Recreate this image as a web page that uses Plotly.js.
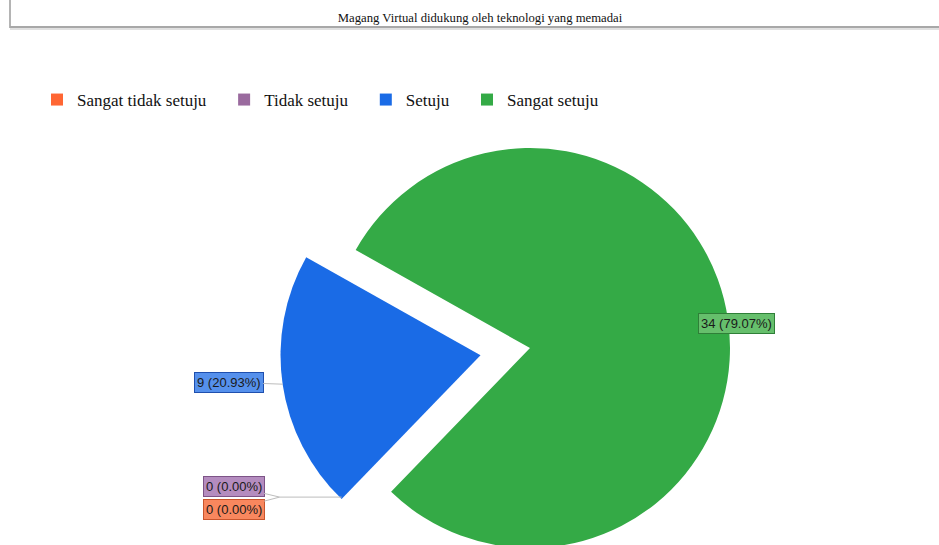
<!DOCTYPE html>
<html>
<head>
<meta charset="utf-8">
<script src="https://cdn.plot.ly/plotly-3.0.1.min.js"></script>
<style>
html, body { margin: 0; padding: 0; overflow: hidden; background: #fff; }
#wrap { width: 939px; height: 545px; overflow: hidden; position: relative; }
#chart { width: 939px; height: 600px; }
</style>
</head>
<body>
<div id="wrap"><div id="chart"></div></div>
<script>
// ---- data ----
const chartTitle = 'Magang Virtual didukung oleh teknologi yang memadai';
const categories = ['Sangat tidak setuju', 'Tidak setuju', 'Setuju', 'Sangat setuju'];
const counts = [0, 0, 9, 34];
const sliceColors = ['#ff6633', '#9a6a9e', '#1a6be6', '#34aa46'];
const labelBg = ['#f8875e', '#b48cbf', '#5590ec', '#66bf6c'];
const labelBorder = ['#c9552c', '#7d5487', '#1f4fae', '#2f7f38'];
const pulls = [0.25, 0.25, 0.25, 0];

// ---- layout params ----
const W = 939, H = 600;
const domX = [280 / W, 780 / W];
const domY = [(H - 598) / H, (H - 98) / H];
const rotation = 224;

const total = counts.reduce((a, b) => a + b, 0);
const maxPull = Math.max(...pulls);
const cx = W * (domX[0] + domX[1]) / 2;
const cy = H * (1 - (domY[0] + domY[1]) / 2);
const r = Math.min(W * (domX[1] - domX[0]), H * (domY[1] - domY[0])) / 2 / (1 + maxPull);
const rad = d => d * Math.PI / 180;
const px = x => x / W, py = y => 1 - y / H;

// slice geometry derived from the data
let cum = rotation;
const slices = counts.map((v, i) => {
  const span = v / total * 360;
  const a0 = cum, a1 = cum + span; cum = a1;
  const mid = (a0 + a1) / 2;
  return { v, a0, a1, mid, pull: pulls[i] };
});
function pulledCenter(s) {
  return [cx + s.pull * r * Math.sin(rad(s.mid)), cy - s.pull * r * Math.cos(rad(s.mid))];
}
function edgePoint(s, ang) {
  const c = pulledCenter(s);
  return [c[0] + r * Math.sin(rad(ang)), c[1] - r * Math.cos(rad(ang))];
}
const fmt = i => counts[i] + ' (' + (counts[i] / total * 100).toFixed(2) + '%)';

const annotations = [];
const shapes = [];
const lineCol = '#bdbdbd';
const lblFont = { family: 'Liberation Sans, Arial, sans-serif', size: 13, color: '#1a1a1a' };

// non-zero slices
slices.forEach((s, i) => {
  if (s.v === 0) return;
  if (s.pull > 0) {
    const p = edgePoint(s, s.mid);
    annotations.push({
      xref: 'paper', yref: 'paper', x: px(p[0]), y: py(p[1]),
      text: fmt(i), showarrow: true, arrowhead: 0, arrowwidth: 1, arrowcolor: lineCol,
      ax: -54, ay: -2, standoff: 0,
      bgcolor: labelBg[i], bordercolor: labelBorder[i], borderwidth: 1, borderpad: 2,
      font: lblFont
    });
  } else {
    const p = [cx + r * Math.sin(rad(s.mid)), cy - r * Math.cos(rad(s.mid))];
    annotations.push({
      xref: 'paper', yref: 'paper', x: px(p[0]), y: py(p[1]),
      xanchor: 'center', yanchor: 'middle',
      text: fmt(i), showarrow: false, xshift: 9, yshift: -4,
      bgcolor: labelBg[i], bordercolor: labelBorder[i], borderwidth: 1, borderpad: 2,
      font: lblFont
    });
  }
});

// zero slices: anchored at the start edge of the next visible slice
const zeroIdx = slices.map((s, i) => (s.v === 0 ? i : -1)).filter(i => i >= 0);
if (zeroIdx.length) {
  const nextVis = slices.findIndex((s, i) => i > zeroIdx[zeroIdx.length - 1] && s.v > 0);
  const anchor = edgePoint(slices[nextVis], slices[nextVis].a0);
  const join = [anchor[0] - 62, anchor[1] - 2];
  shapes.push({ type: 'line', xref: 'paper', yref: 'paper',
    x0: px(anchor[0]), y0: py(join[1]), x1: px(join[0]), y1: py(join[1]),
    line: { color: lineCol, width: 1 } });
  const offs = [12, -11];
  zeroIdx.forEach((i, k) => {
    annotations.push({
      xref: 'paper', yref: 'paper', x: px(join[0]), y: py(join[1]),
      text: fmt(i), showarrow: true, arrowhead: 0, arrowwidth: 1, arrowcolor: lineCol,
      ax: -46, ay: offs[k % 2], standoff: 0,
      bgcolor: labelBg[i], bordercolor: labelBorder[i], borderwidth: 1, borderpad: 2,
      font: lblFont
    });
  });
}

// title box decoration
shapes.push({ type: 'line', xref: 'paper', yref: 'paper', x0: px(10), x1: px(10), y0: py(0), y1: py(28),
  line: { color: '#b4b4b4', width: 2 } });
shapes.push({ type: 'line', xref: 'paper', yref: 'paper', x0: px(10), x1: px(939), y0: py(27), y1: py(27),
  line: { color: '#a8a8a8', width: 2 } });
shapes.push({ type: 'line', xref: 'paper', yref: 'paper', x0: px(10), x1: px(939), y0: py(29), y1: py(29),
  line: { color: '#e0e0e0', width: 2 } });

// legend entries get a little trailing space so the items spread like the original
const legendLabels = categories.map(c => c + '\u00a0\u00a0\u00a0');

const trace = {
  type: 'pie',
  labels: legendLabels,
  values: counts,
  sort: false,
  direction: 'clockwise',
  rotation: rotation,
  pull: pulls,
  marker: { colors: sliceColors, line: { width: 0 } },
  textinfo: 'none',
  customdata: categories,
  hovertemplate: '%{customdata}: %{value} (%{percent})<extra></extra>',
  domain: { x: domX, y: domY }
};

const layout = {
  width: W, height: H,
  margin: { l: 0, r: 0, t: 0, b: 0 },
  paper_bgcolor: '#fff',
  title: {
    text: chartTitle, xref: 'container', yref: 'container',
    x: 480 / W, xanchor: 'center', y: 1 - 18 / H, yanchor: 'middle',
    font: { family: 'Liberation Serif, Times New Roman, serif', size: 12.7, color: '#111' }
  },
  showlegend: true,
  legend: {
    orientation: 'h', x: 37 / W, xanchor: 'left', y: 1 - 100 / H, yanchor: 'middle',
    font: { family: 'Liberation Serif, Times New Roman, serif', size: 17, color: '#111' },
    traceorder: 'normal'
  },
  annotations: annotations,
  shapes: shapes
};

Plotly.newPlot('chart', [trace], layout, { displayModeBar: false });
</script>
</body>
</html>
